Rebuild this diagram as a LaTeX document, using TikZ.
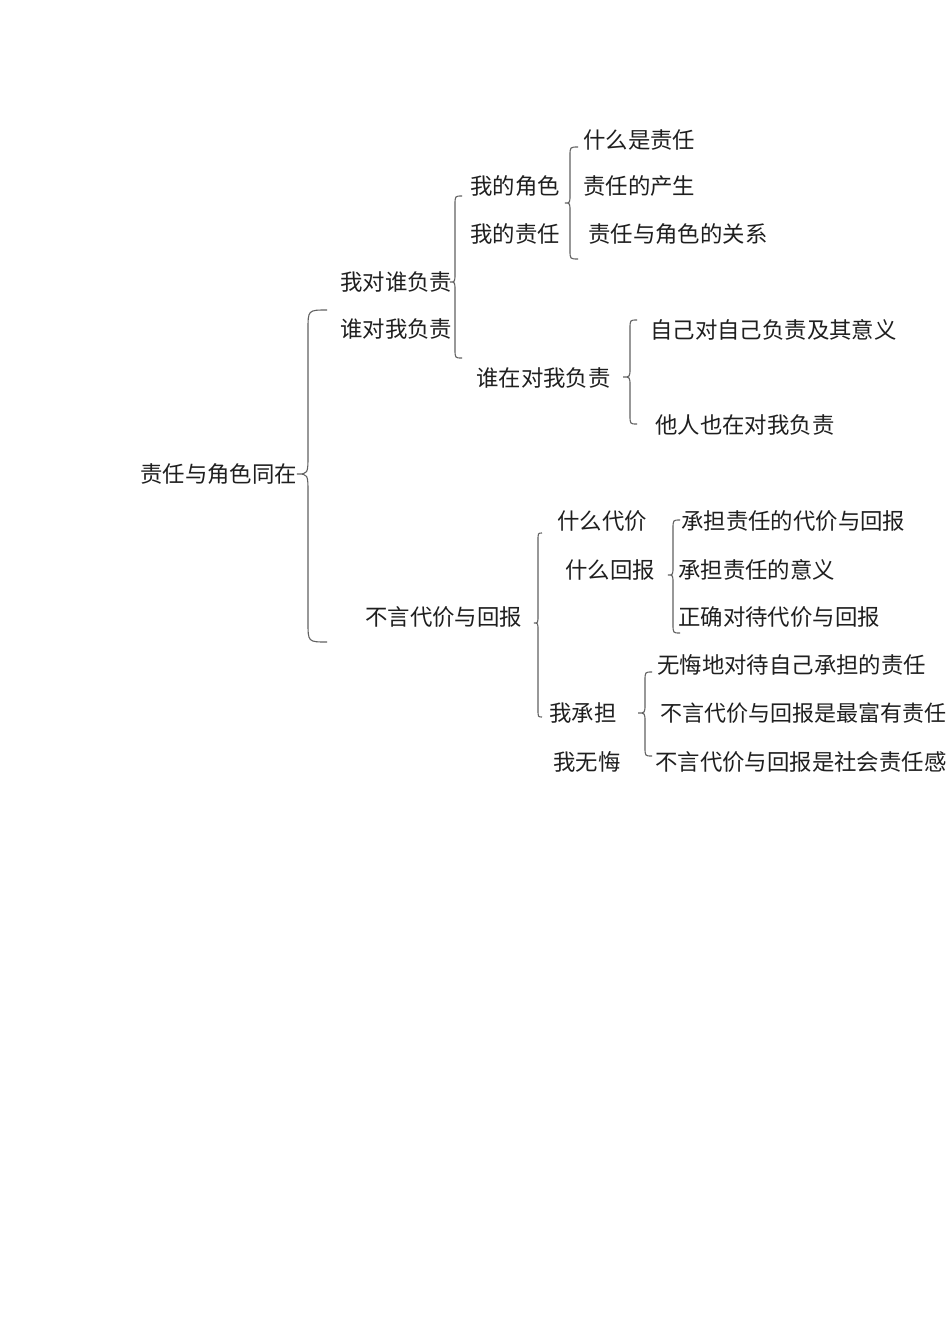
\documentclass[tikz,border=0pt]{standalone}
\usepackage{fontspec}
\newfontfamily\cjk{Noto Sans CJK SC}
\begin{document}
\begin{tikzpicture}[x=1pt,y=-1pt,
  lbl/.style={anchor=west,inner sep=0pt,font=\cjk\fontsize{22.4}{25}\selectfont,text=black!88},
  bracestyle/.style={draw=black!62,line width=1.1pt}]
\useasboundingbox[fill=white] (0,0) rectangle (950,1344);
\clip (0,0) rectangle (950,1344);
\newcommand{\curlyb}[7]{%
  % #1 end x, #2 spine x, #3 tip x, #4 top y, #5 tip y, #6 bottom y, #7 radius
  \draw[bracestyle] (#1,#4) .. controls (#2,#4) .. (#2,{#4+#7})
    -- (#2,{#5-#7}) .. controls (#2,#5) .. (#3,#5)
    .. controls (#2,#5) .. (#2,{#5+#7})
    -- (#2,{#6-#7}) .. controls (#2,#6) .. (#1,#6);}
% texts
\node[lbl] (root) at (140,474) {责任与角色同在};
\node[lbl] (a1) at (340,282) {我对谁负责};
\node[lbl] (a2) at (340,329) {谁对我负责};
\node[lbl] (b1) at (470,186) {我的角色};
\node[lbl] (b2) at (470,234) {我的责任};
\node[lbl] (c1) at (583,140) {什么是责任};
\node[lbl] (c2) at (583,186) {责任的产生};
\node[lbl] (c3) at (588,234) {责任与角色的关系};
\node[lbl] (d) at (476,378) {谁在对我负责};
\node[lbl] (e1) at (650,330) {自己对自己负责及其意义};
\node[lbl] (e2) at (655,425) {他人也在对我负责};
\node[lbl] (f) at (365,617) {不言代价与回报};
\node[lbl] (g1) at (557,521) {什么代价};
\node[lbl] (g2) at (565,570) {什么回报};
\node[lbl] (g3) at (549,713) {我承担};
\node[lbl] (g4) at (553,762) {我无悔};
\node[lbl] (h1) at (681,521) {承担责任的代价与回报};
\node[lbl] (h2) at (678,570) {承担责任的意义};
\node[lbl] (h3) at (678,617) {正确对待代价与回报};
\node[lbl] (i1) at (657,665) {无悔地对待自己承担的责任};
\node[lbl,font=\cjk\fontsize{22}{25}\selectfont] (i2) at (660,713) {不言代价与回报是最富有责任};
\node[lbl] (i3) at (655,762) {不言代价与回报是社会责任感};
% braces
\curlyb{327}{308}{297}{310}{474}{642}{20}
\curlyb{462}{455}{450}{196}{282}{358}{9}
\curlyb{578}{570}{565}{147}{203}{259}{9}
\curlyb{637}{630}{623}{320}{377}{424}{9}
\curlyb{542}{538}{534}{533}{623}{717}{8}
\curlyb{680}{673}{668}{520}{575}{633}{9}
\curlyb{652}{645}{638}{672}{713}{756}{9}
\end{tikzpicture}
\end{document}
